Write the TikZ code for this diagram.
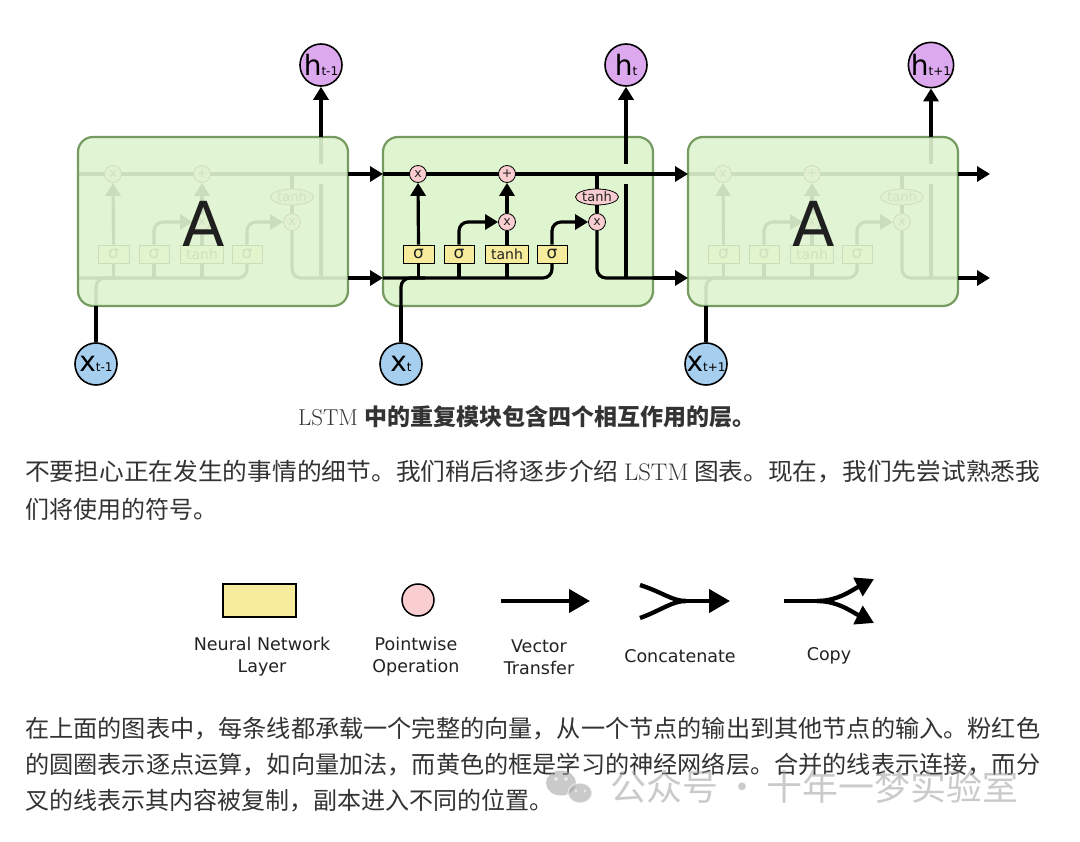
\documentclass[tikz,border=0pt]{standalone}
\usepackage{fontspec}
\usepackage{graphicx}
\usetikzlibrary{arrows.meta,shapes.geometric}
\newfontfamily\dv{DejaVu Sans}
\newfontfamily\cjk{Noto Sans CJK SC}
\definecolor{boxg}{RGB}{223,245,208}
\definecolor{boxb}{RGB}{118,155,96}
\definecolor{pinkc}{RGB}{250,206,208}
\definecolor{yel}{RGB}{246,236,156}
\definecolor{purp}{RGB}{220,168,238}
\definecolor{bluec}{RGB}{166,206,238}
\definecolor{txt}{RGB}{51,51,51}
\definecolor{txtd}{RGB}{34,34,34}
\definecolor{wm}{RGB}{160,160,160}
\pgfdeclarelayer{back}\pgfdeclarelayer{wires}\pgfdeclarelayer{fade}\pgfdeclarelayer{front}
\pgfsetlayers{back,wires,main,fade,front}
\tikzset{
 wire/.style={line width=3.2pt,draw=black},
 arr/.style={wire,-{Triangle[length=13pt,width=15pt]}},
 pw/.style={circle,draw=black,line width=0.8pt,fill=pinkc,minimum size=17pt,inner sep=0pt,text=txtd,font=\dv\fontsize{12.5}{12.5}\selectfont},
 pwe/.style={ellipse,draw=black,line width=0.8pt,fill=pinkc,minimum width=43pt,minimum height=16pt,inner sep=0pt,text=txtd,font=\dv\fontsize{13}{13}\selectfont},
 nn/.style={rectangle,draw=black,line width=0.9pt,fill=yel,minimum height=18pt,inner sep=0pt,text=txtd,font=\dv\fontsize{17}{17}\selectfont},
 nnt/.style={nn,font=\dv\fontsize{14}{14}\selectfont},
 cellbox/.style={rectangle,rounded corners=15pt,draw=boxb,line width=2.2pt,fill=boxg,minimum width=270pt,minimum height=169pt,inner sep=0pt},
 hcirc/.style={circle,draw=black,line width=1.6pt,fill=purp,minimum size=42pt,inner sep=0pt,text=black},
 xcirc/.style={hcirc,fill=bluec},
 bigA/.style={font=\dv\fontsize{62}{62}\selectfont,text=black!88},
 legwire/.style={line width=4.3pt,draw=black},
 legarr/.style={legwire,-{Triangle[length=21pt,width=23pt]}},
 copyarr/.style={legwire,-{Triangle[length=18pt,width=20pt]}},
 leglab/.style={font=\dv\fontsize{17.5}{22}\selectfont,text=txtd,align=center},
 body/.style={font=\cjk\fontsize{24}{24}\selectfont,text=txt,anchor=west,inner sep=0pt},
}
\newcommand\lbl[2]{{\dv\fontsize{28}{28}\selectfont #1\fontsize{12}{12}\selectfont #2}}
\newcommand\lstmcell[2]{%
\begin{scope}[xshift=#2pt]
 \coordinate (#1cl) at (383,174);
 \coordinate (#1cr) at (653,174);
 \coordinate (#1bl) at (383,278);
 \coordinate (#1br) at (653,278);
 \coordinate (#1hb) at (626,278);
 \coordinate (#1hg) at (626,184);
 \coordinate (#1hu) at (626,164);
 \coordinate (#1ht) at (626,137);
 \coordinate (#1xb) at (401,306);
 \coordinate (#1xj) at (425,278);
 \node[pw] (#1fx) at (418,174) {x};
 \node[pw] (#1px) at (507,174) {+};
 \node[pw] (#1ix) at (507,222) {x};
 \node[pw] (#1ox) at (597,222) {x};
 \node[pwe] (#1th) at (597,197) {tanh};
 \node[nn,minimum width=31pt] (#1s1) at (418.5,254) {σ};
 \node[nn,minimum width=30pt] (#1s2) at (459,254) {σ};
 \node[nnt,minimum width=43pt] (#1tb) at (507,254) {tanh};
 \node[nn,minimum width=30pt] (#1s3) at (552,254) {σ};
 \begin{pgfonlayer}{wires}
  \draw[wire] (#1cl) -- (#1cr);
  \draw[wire,rounded corners=9pt] (#1bl) -| (#1s3.south);
  \draw[wire] (#1s1.south) -- (#1s1.south |- #1bl);
  \draw[wire] (#1s2.south) -- (#1s2.south |- #1bl);
  \draw[wire] (#1tb.south) -- (#1tb.south |- #1bl);
  \draw[arr] (#1s1.north) -- (#1fx.south);
  \draw[arr,rounded corners=9pt] (#1s2.north) |- (#1ix.west);
  \draw[wire] (#1tb.north) -- (#1ix.south);
  \draw[arr] (#1ix.north) -- (#1px.south);
  \draw[arr,rounded corners=9pt] (#1s3.north) |- (#1ox.west);
  \draw[wire] (#1th.north |- #1cl) -- (#1th.north);
  \draw[wire] (#1th.south) -- (#1ox.north);
  \draw[wire,rounded corners=9pt] (#1ox.south) |- (#1br);
  \draw[wire] (#1hb) -- (#1hg);
  \draw[wire] (#1hu) -- (#1ht);
  \draw[wire,rounded corners=9pt] (#1xb) |- (#1xj);
 \end{pgfonlayer}
\end{scope}}
\begin{document}
\begin{tikzpicture}[x=1pt,y=-1pt]
\useasboundingbox (0,0) rectangle (1080,842);
% cells
\begin{pgfonlayer}{back}
 \fill[white] (0,0) rectangle (1080,842);
 \node[cellbox] (boxM) at (518,221.5) {};
\end{pgfonlayer}
\begin{pgfonlayer}{fade}
 \node[cellbox,fill opacity=0.91] (boxL) at (213,221.5) {};
 \node[cellbox,fill opacity=0.91] (boxR) at (823,221.5) {};
\end{pgfonlayer}
\lstmcell{L}{-305}
\lstmcell{M}{0}
\lstmcell{R}{305}
\begin{pgfonlayer}{front}
 \node[bigA] (AL) at (204,224) {A};
 \node[bigA] (AR) at (814,224) {A};
 \node[hcirc] (h1) at (321,65) {\lbl{h}{t-1}};
 \node[hcirc] (h2) at (626,65) {\lbl{h}{t}};
 \node[hcirc] (h3) at (931,65) {\lbl{h}{t+1}};
 \node[xcirc] (x1) at (96,364) {\lbl{x}{t-1}};
 \node[xcirc] (x2) at (401,364) {\lbl{x}{t}};
 \node[xcirc] (x3) at (706,364) {\lbl{x}{t+1}};
 \draw[arr] (Lht) -- (h1.south);
 \draw[arr] (Mht) -- (h2.south);
 \draw[arr] (Rht) -- (h3.south);
 \draw[wire] (x1.north) -- (Lxb);
 \draw[wire] (x2.north) -- (Mxb);
 \draw[wire] (x3.north) -- (Rxb);
 \draw[arr] (Lcr) -- (Mcl);
 \draw[arr] (Lbr) -- (Mbl);
 \draw[arr] (Mcr) -- (Rcl);
 \draw[arr] (Mbr) -- (Rbl);
 \coordinate (o1) at (990,174);
 \coordinate (o2) at (990,278);
 \draw[arr] (Rcr) -- (o1);
 \draw[arr] (Rbr) -- (o2);
\end{pgfonlayer}
% caption and text
\node[font=\fontsize{23}{23}\selectfont,text=txt] (cap) at (527,417) {{\rmfamily LSTM} {\cjk\bfseries 中的重复模块包含四个相互作用的层。}};
\node[body] (p1a) at (25,472) {\resizebox{1015pt}{\height}{不要担心正在发生的事情的细节。我们稍后将逐步介绍 {\rmfamily LSTM} 图表。现在，我们先尝试熟悉我}};
\node[body] (p1b) at (25,509) {们将使用的符号。};
% legend
\node[rectangle,draw=black,line width=1.5pt,fill=yel,minimum width=73pt,minimum height=33pt,inner sep=0pt] (lgnn) at (259.5,600.5) {};
\node[circle,draw=black,line width=1.5pt,fill=pinkc,minimum size=32pt,inner sep=0pt] (lgpw) at (418,600) {};
\coordinate (v1) at (501,601); \coordinate (v2) at (590,601);
\draw[legarr] (v1) -- (v2);
\coordinate (c1) at (640,585); \coordinate (c2) at (640,618);
\coordinate (cm) at (686,601); \coordinate (ct) at (730,601);
\draw[legwire] (c1) .. controls (662,592) and (672,601) .. (cm);
\draw[legwire] (c2) .. controls (662,610) and (672,601) .. (cm);
\draw[legarr] (cm) -- (ct);
\coordinate (k1) at (784,601); \coordinate (km) at (817,601);
\coordinate (ku) at (874,579); \coordinate (kd) at (874,623);
\draw[legwire] (k1) -- (km);
\draw[copyarr] (km) .. controls (838,601) and (852,590) .. (ku);
\draw[copyarr] (km) .. controls (838,601) and (852,612) .. (kd);
\node[leglab] (t1) at (262,657) {Neural Network\\Layer};
\node[leglab] (t2) at (416,657) {Pointwise\\Operation};
\node[leglab] (t3) at (539,657) {Vector\\Transfer};
\node[leglab] (t4) at (680,656) {Concatenate};
\node[leglab] (t5) at (829,656) {Copy};
% paragraph 3
\node[body] (p3a) at (25,729) {\resizebox{1015pt}{\height}{在上面的图表中，每条线都承载一个完整的向量，从一个节点的输出到其他节点的输入。粉红色}};
\node[body] (p3b) at (25,765) {\resizebox{1015pt}{\height}{的圆圈表示逐点运算，如向量加法，而黄色的框是学习的神经网络层。合并的线表示连接，而分}};
\node[body] (p3c) at (25,801) {叉的线表示其内容被复制，副本进入不同的位置。};
% watermark
\begin{scope}[opacity=0.55]
 \fill[wm] (561,783) ellipse (15pt and 12.5pt);
 \fill[wm,draw=white,line width=1.5pt] (580,793) ellipse (12pt and 10pt);
 \fill[white] (556,779) circle (2pt) (566,779) circle (2pt) (576,791) circle (1.6pt) (585,791) circle (1.6pt);
 \node[text=wm,font=\cjk\fontsize{36}{36}\selectfont,anchor=west,inner sep=0pt] (wmk) at (610,787) {公众号\,·\,十年一梦实验室};
\end{scope}
\end{tikzpicture}
\end{document}
